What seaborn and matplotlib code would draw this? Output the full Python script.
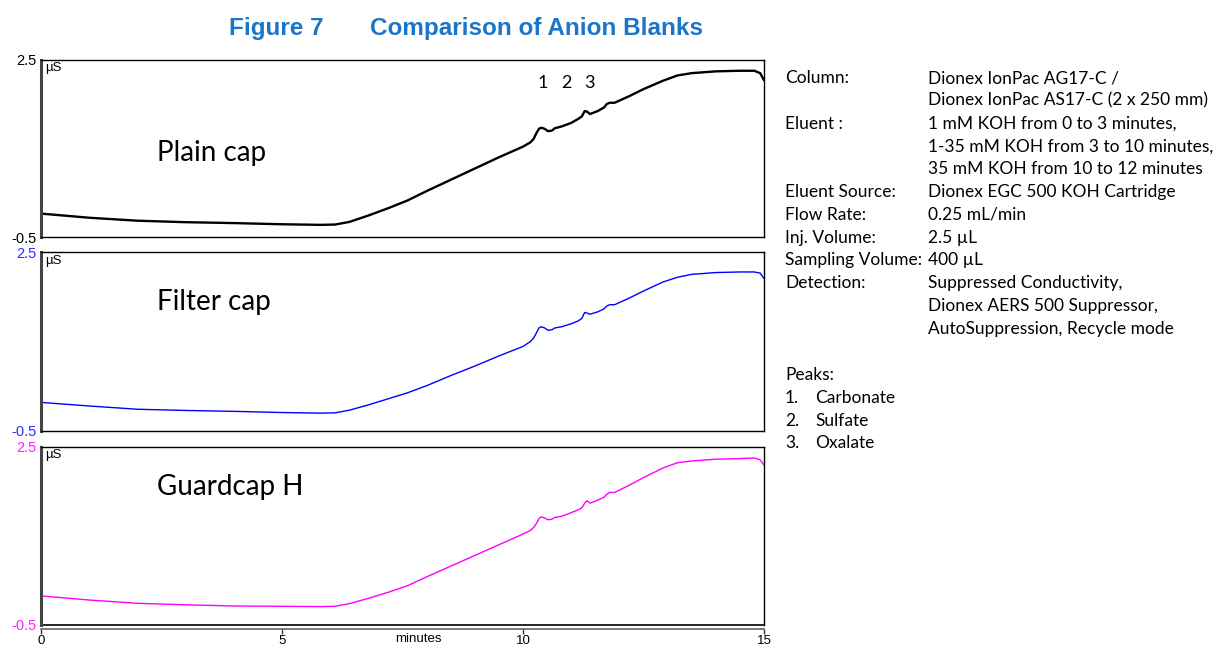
import numpy as np
import pandas as pd
import matplotlib
matplotlib.use("Agg")
import matplotlib.pyplot as plt
import seaborn as sns

sns.set_theme(style="white")
plt.rcParams['font.family'] = ['Liberation Sans', 'DejaVu Sans']

# ---------------- data ----------------
minutes = [0, 1, 2, 3, 4, 5,
           5.8, 6.1, 6.4, 6.8, 7.2, 7.6,
           8, 8.5, 9, 9.5, 10.0,
           10.15, 10.22, 10.28, 10.33, 10.38,
           10.45, 10.52, 10.60, 10.66, 10.8,
           11.0, 11.15, 11.22, 11.28, 11.33,
           11.39, 11.55, 11.68, 11.74, 11.80,
           11.90, 12.2, 12.5, 12.9, 13.2,
           13.5, 14.0, 14.5, 14.8, 14.92, 15.0]

plain_cap = [-0.10, -0.17, -0.22, -0.245, -0.26, -0.28,
             -0.29, -0.285, -0.24, -0.13, -0.01, 0.12,
             0.28, 0.47, 0.66, 0.85, 1.03,
             1.10, 1.16, 1.26, 1.33, 1.35,
             1.33, 1.29, 1.30, 1.34, 1.37,
             1.43, 1.50, 1.54, 1.63, 1.62,
             1.58, 1.63, 1.69, 1.75, 1.77,
             1.77, 1.88, 2.00, 2.14, 2.23,
             2.27, 2.30, 2.31, 2.31, 2.27, 2.15]

filter_cap = [-0.02, -0.08, -0.135, -0.155, -0.17, -0.19,
              -0.20, -0.195, -0.15, -0.06, 0.04, 0.14,
              0.26, 0.43, 0.59, 0.76, 0.92,
              1.00, 1.06, 1.15, 1.23, 1.25,
              1.23, 1.19, 1.20, 1.23, 1.25,
              1.30, 1.35, 1.39, 1.49, 1.48,
              1.46, 1.50, 1.55, 1.60, 1.62,
              1.62, 1.73, 1.85, 2.00, 2.08,
              2.13, 2.16, 2.17, 2.17, 2.15, 2.06]

guardcap_h = [-0.01, -0.08, -0.135, -0.16, -0.18, -0.185,
              -0.19, -0.185, -0.14, -0.05, 0.05, 0.16,
              0.31, 0.49, 0.67, 0.85, 1.03,
              1.09, 1.14, 1.21, 1.29, 1.32,
              1.30, 1.27, 1.28, 1.31, 1.33,
              1.39, 1.44, 1.47, 1.55, 1.59,
              1.55, 1.60, 1.65, 1.70, 1.73,
              1.73, 1.85, 1.98, 2.14, 2.23,
              2.26, 2.29, 2.30, 2.31, 2.28, 2.19]

panel_names = ["Plain cap", "Filter cap", "Guardcap H"]
panel_colors = ["#000000", "#0000FF", "#FF00FF"]
tick_colors = ["#000000", "#2B2BFF", "#FF22FF"]
y_limits = [-0.5, 2.5]
x_ticks = [0, 5, 10, 15]
peak_labels = ["1", "2", "3"]
peak_label_x = [10.41, 10.89, 11.37]

info_labels = ["Column:", "", "Eluent :", "", "", "Eluent Source:", "Flow Rate:",
               "Inj. Volume:", "Sampling Volume:", "Detection:", "", ""]
info_values = ["Dionex IonPac AG17-C /", "Dionex IonPac AS17-C (2 x 250 mm)",
               "1 mM KOH from 0 to 3 minutes,", "1-35 mM KOH from 3 to 10 minutes,",
               "35 mM KOH from 10 to 12 minutes", "Dionex EGC 500 KOH Cartridge",
               "0.25 mL/min", "2.5 µL", "400 µL", "Suppressed Conductivity,",
               "Dionex AERS 500 Suppressor,", "AutoSuppression, Recycle mode"]
peak_names = ["Carbonate", "Sulfate", "Oxalate"]

series = [plain_cap, filter_cap, guardcap_h]

# ---------------- figure ----------------
W, H = 1222, 649
fig = plt.figure(figsize=(W / 100, H / 100), dpi=100)
fig.patch.set_facecolor("white")

def fx(px):
    return px / W

def fy(py):
    return 1 - py / H

panel_px = [(59.5, 237.3), (252.3, 431.0), (446.7, 625.0)]
left_px, right_px = 41, 764
name_y = [1.58, 0.83, 0.68]

axes = []
for i, (top, bot) in enumerate(panel_px):
    ax = fig.add_axes([fx(left_px), fy(bot), fx(right_px - left_px), (bot - top) / H])
    df = pd.DataFrame({"minutes": minutes, "uS": series[i]})
    sns.lineplot(data=df, x="minutes", y="uS", ax=ax, color=panel_colors[i],
                 linewidth=1.7 if i == 0 else 1.0, sort=False)
    ax.set_xlim(0, 15)
    ax.set_ylim(*y_limits)
    ax.set_xlabel("")
    ax.set_ylabel("")
    ax.set_facecolor("white")
    ax.grid(False)
    ax.set_yticks(y_limits)
    ax.set_yticklabels(["-0.5", "2.5"])
    ax.tick_params(axis="y", length=0, pad=3, labelsize=10.5, colors=tick_colors[i])
    for s in ["top", "right", "bottom"]:
        ax.spines[s].set_color("black")
        ax.spines[s].set_linewidth(1.0)
    ax.spines["left"].set_color("#444444")
    ax.spines["left"].set_linewidth(2.2)
    ax.text(0.006, 0.985, "µS", transform=ax.transAxes, ha="left", va="top",
            fontsize=9.5, color="black")
    ax.text(2.4, 2.5 - name_y[i], panel_names[i],
            ha="left", va="center", fontsize=20, family=["Lato", "DejaVu Sans"],
            color="black")
    if i < 2:
        ax.set_xticks([])
    axes.append(ax)

# bottom axis
axb = axes[2]
axb.set_xticks(x_ticks)
axb.set_xticklabels([str(t) for t in x_ticks])
axb.tick_params(axis="x", length=3.5, width=1, colors="#333333", labelcolor="black",
                labelsize=9.5, pad=0.5, direction="out", bottom=True)
axb.spines["bottom"].set_position(("outward", 3))
axb.spines["bottom"].set_color("#666666")
axb.spines["bottom"].set_linewidth(1.2)
axb.axhline(y_limits[0], color="black", linewidth=1.2, clip_on=False)
fig.text(fx(418), fy(632.5), "minutes", ha="center", va="top",
         fontsize=9.5, color="black")

# peak labels
for lab, xp in zip(peak_labels, peak_label_x):
    axes[0].text(xp, 2.11, lab, ha="center", va="center", fontsize=13,
                 family=["Lato", "DejaVu Sans"], color="black")

# title
title_font = dict(fontsize=17.5, fontweight="bold", color="#1B75C8",
                  family=["Liberation Sans Narrow", "Liberation Sans"],
                  ha="center", va="center")
fig.text(fx(276), fy(28), "Figure 7", **title_font)
fig.text(fx(536), fy(28), "Comparison of Anion Blanks", **title_font)

# right info block
line_h = 22.8
y0 = 78
info_font = dict(fontsize=12.5, color="black", family=["Lato", "DejaVu Sans"],
                 va="center")
for k, (lab, val) in enumerate(zip(info_labels, info_values)):
    yy = y0 + k * line_h
    if lab:
        fig.text(fx(785), fy(yy), lab, ha="left", **info_font)
    fig.text(fx(928), fy(yy), val, ha="left", **info_font)

fig.text(fx(785), fy(375), "Peaks:", ha="left", **info_font)
for k, nm in enumerate(peak_names):
    yy = 375 + (k + 1) * line_h
    fig.text(fx(785), fy(yy), f"{k + 1}.", ha="left", **info_font)
    fig.text(fx(815), fy(yy), nm, ha="left", **info_font)

fig.savefig("out.png", dpi=100, facecolor="white")
